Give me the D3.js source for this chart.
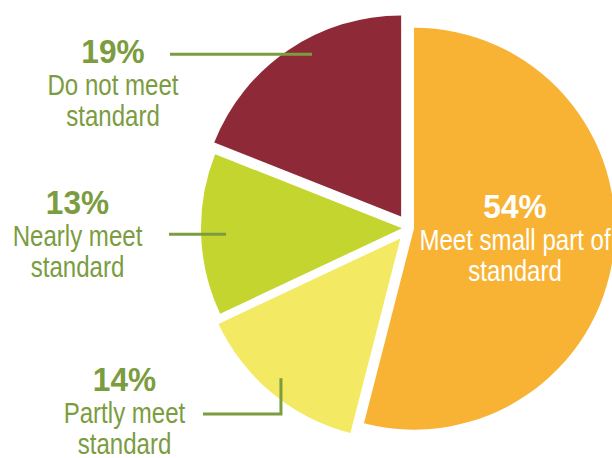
<!DOCTYPE html>
<html>
<head>
<meta charset="utf-8">
<script src="https://cdn.jsdelivr.net/npm/d3@7"></script>
<style>
  html, body { margin: 0; padding: 0; background: #ffffff; }
  svg { display: block; }
</style>
</head>
<body>
<svg id="chart" width="612" height="458"></svg>
<script>
// Share of results by level of meeting the standard
const categories = ["Meet small part of standard", "Partly meet standard", "Nearly meet standard", "Do not meet standard"];
const values = [54, 14, 13, 19];
const percentLabels = ["54%", "14%", "13%", "19%"];
const labelLines = [
  ["Meet small part of", "standard"],
  ["Partly meet", "standard"],
  ["Nearly meet", "standard"],
  ["Do not meet", "standard"]
];
const sliceColors = ["#F8B334", "#F3E962", "#C5D52F", "#8E2A38"];

// Layout
const width = 612, height = 458;
const center = { x: 409, y: 228 };
const radius = 201;
const explode = [5, 13.5, 7, 14];          // per-slice pull-out along the bisector
const labelGreen = "#7B9C3F";
const condense = 0.83;                      // horizontal squeeze for the caption face

// Label placement: centre x, baseline of the percentage line, text colour
const labelLayout = [
  { x: 515,   y: 218, color: "#ffffff", leader: null },
  { x: 124.5, y: 391, color: labelGreen, leader: { type: "elbow", start: 203, lineY: 414, angle: 220.5, r: 0.915 } },
  { x: 77.5,  y: 214, color: labelGreen, leader: { type: "flat", start: 169, angle: 268, r: 0.876 } },
  { x: 113,   y: 63,  color: labelGreen, leader: { type: "flat", start: 170, angle: 331.2, r: 0.92 } }
];

const svg = d3.select("#chart");

const pie = d3.pie().sort(null).value(d => d);
const arcs = pie(values);
const arc = d3.arc().innerRadius(0).outerRadius(radius);

const toRad = deg => deg * Math.PI / 180;

// Each slice sits at its own exploded origin
const origins = arcs.map((a, i) => {
  const [dx, dy] = d3.pointRadial((a.startAngle + a.endAngle) / 2, explode[i]);
  return { x: center.x + dx, y: center.y + dy };
});

svg.append("g")
  .selectAll("path")
  .data(arcs)
  .join("path")
  .attr("transform", (d, i) => `translate(${origins[i].x},${origins[i].y})`)
  .attr("d", arc)
  .attr("fill", (d, i) => sliceColors[i]);

// Leader lines from the side labels into their slices
const leaders = svg.append("g")
  .attr("fill", "none")
  .attr("stroke", labelGreen)
  .attr("stroke-width", 3);

labelLayout.forEach((lay, i) => {
  if (!lay.leader) return;
  const L = lay.leader;
  const [px, py] = d3.pointRadial(toRad(L.angle), radius * L.r);
  const end = { x: origins[i].x + px, y: origins[i].y + py };
  let pts;
  if (L.type === "flat") {
    pts = [[L.start, end.y], [end.x, end.y]];
  } else {
    pts = [[L.start, L.lineY], [end.x, L.lineY], [end.x, end.y]];
  }
  leaders.append("path").attr("d", d3.line()(pts));
});

// Text labels
const labels = svg.append("g").attr("text-anchor", "middle");

labelLayout.forEach((lay, i) => {
  const g = labels.append("g").attr("fill", lay.color);
  g.append("text")
    .attr("transform", `translate(${lay.x},${lay.y}) scale(0.93,1)`)
    .attr("font-family", "'Liberation Sans', Arial, sans-serif")
    .attr("font-weight", "bold")
    .attr("font-size", 34)
    .text(percentLabels[i]);
  labelLines[i].forEach((line, j) => {
    g.append("text")
      .attr("transform", `translate(${lay.x},${lay.y + 31.5 * (j + 1)}) scale(${condense},1)`)
      .attr("font-family", "'Liberation Sans', Arial, sans-serif")
      .attr("font-size", 29)
      .text(line);
  });
});
</script>
</body>
</html>
